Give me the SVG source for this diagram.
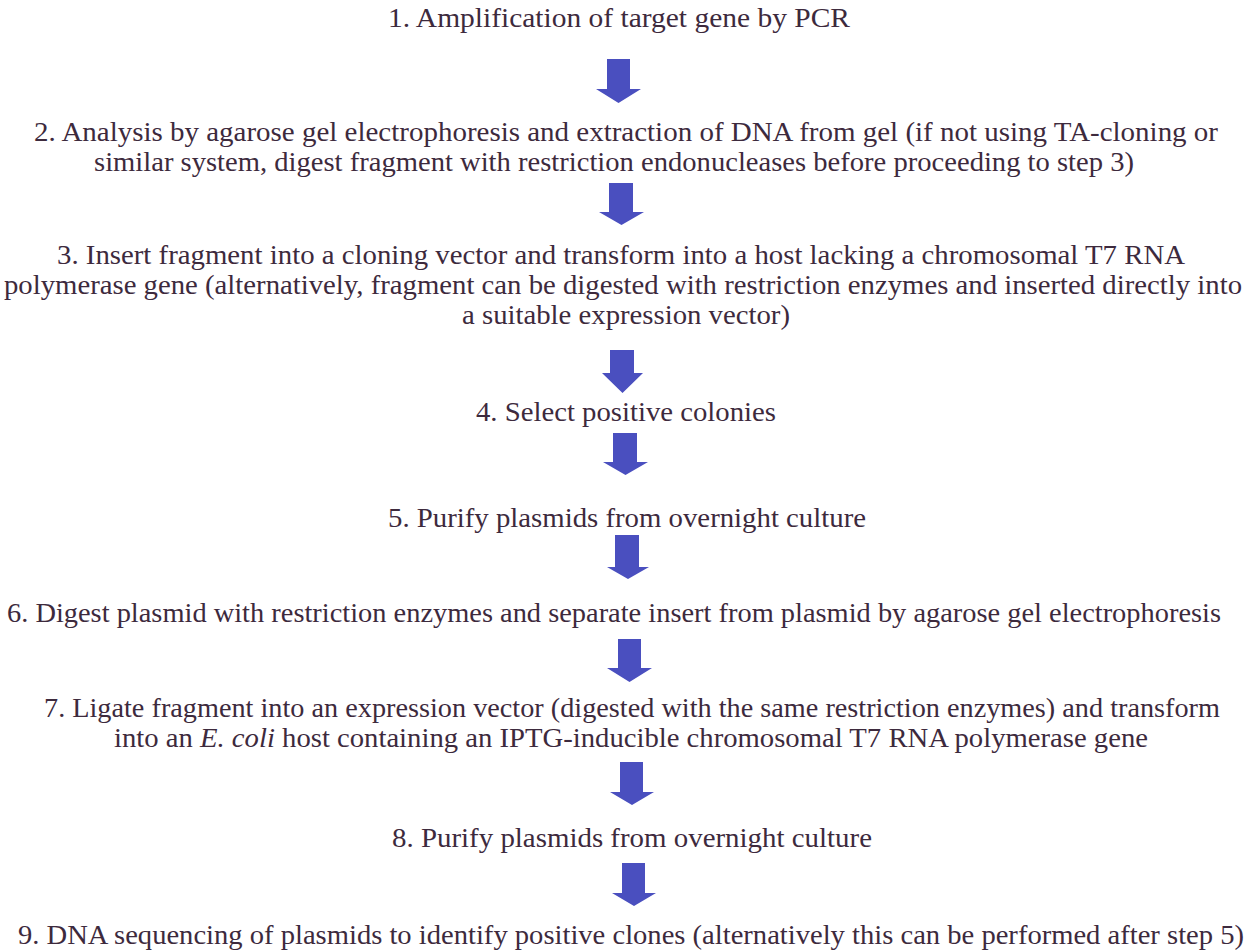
<svg xmlns="http://www.w3.org/2000/svg" width="1250" height="952" viewBox="0 0 1250 952">
<style>
text{font-family:"Liberation Serif","Times New Roman",serif;font-size:27px;fill:#3d2a3d;text-anchor:middle}
.arr{fill:#4a4fbf}
</style>
<rect width="1250" height="952" fill="#ffffff"/>
<g id="step1"><text x="619" y="27" textLength="462" lengthAdjust="spacingAndGlyphs">1. Amplification of target gene by PCR</text></g>
<g id="step2"><text x="626" y="141" textLength="1184" lengthAdjust="spacingAndGlyphs">2. Analysis by agarose gel electrophoresis and extraction of DNA from gel (if not using TA-cloning or</text><text x="614" y="171" textLength="1040" lengthAdjust="spacingAndGlyphs">similar system, digest fragment with restriction endonucleases before proceeding to step 3)</text></g>
<g id="step3"><text x="621" y="264" textLength="1128" lengthAdjust="spacingAndGlyphs">3. Insert fragment into a cloning vector and transform into a  host lacking a chromosomal T7 RNA</text><text x="623" y="294" textLength="1238" lengthAdjust="spacingAndGlyphs">polymerase gene (alternatively, fragment can be digested with restriction enzymes and inserted directly into</text><text x="626" y="324" textLength="328" lengthAdjust="spacingAndGlyphs">a suitable expression vector)</text></g>
<g id="step4"><text x="626" y="421" textLength="300" lengthAdjust="spacingAndGlyphs">4. Select positive colonies</text></g>
<g id="step5"><text x="627" y="527" textLength="478" lengthAdjust="spacingAndGlyphs">5. Purify plasmids from overnight culture</text></g>
<g id="step6"><text x="614" y="622" textLength="1214" lengthAdjust="spacingAndGlyphs">6. Digest plasmid with restriction enzymes and separate insert from plasmid by agarose gel electrophoresis</text></g>
<g id="step7"><text x="632" y="717" textLength="1176" lengthAdjust="spacingAndGlyphs">7. Ligate fragment into an expression vector (digested with the same restriction enzymes) and transform</text><text x="631" y="747" textLength="1034" lengthAdjust="spacingAndGlyphs">into an <tspan font-style="italic">E. coli</tspan> host containing an IPTG-inducible chromosomal T7 RNA polymerase gene</text></g>
<g id="step8"><text x="632" y="847" textLength="480" lengthAdjust="spacingAndGlyphs">8. Purify plasmids from overnight culture</text></g>
<g id="step9"><text x="631" y="944" textLength="1226" lengthAdjust="spacingAndGlyphs">9. DNA sequencing of plasmids to identify positive clones (alternatively this can be performed after step 5)</text></g>
<g id="connectors">
<path class="arr" d="M607 59H630V89H641L618.5 103L596 89H607Z"/>
<path class="arr" d="M609 183H633V212H644L621.5 225L599 212H609Z"/>
<path class="arr" d="M610 350H634V373H643L622.5 393L602 373H610Z"/>
<path class="arr" d="M613 433H637V462H648L625.5 475L603 462H613Z"/>
<path class="arr" d="M615 535H639V567H649L628 579L607 567H615Z"/>
<path class="arr" d="M618 639H641V668H652L629.5 682L607 668H618Z"/>
<path class="arr" d="M620 762H643V792H654L632 805L610 792H620Z"/>
<path class="arr" d="M622 863H645V893H656L634 906L612 893H622Z"/>
</g>
</svg>
